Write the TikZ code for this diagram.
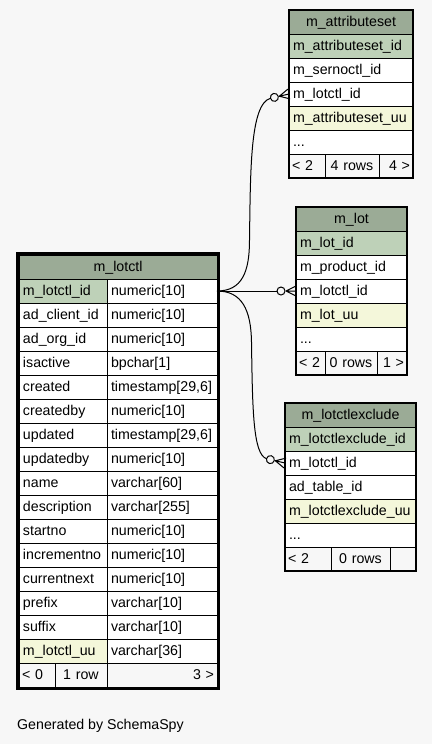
\documentclass[tikz,border=0pt]{standalone}
\usepackage{fontspec}
\setmainfont{Liberation Sans}
\definecolor{bgc}{HTML}{F7F7F7}
\definecolor{hdrc}{HTML}{9BAB96}
\definecolor{pkc}{HTML}{BED1B8}
\definecolor{idxc}{HTML}{F4F7DA}
\begin{document}
\begin{tikzpicture}[x=1pt,y=-1pt,
  every node/.style={font=\fontsize{14.2pt}{17pt}\selectfont},
  cell/.style={draw=black, line width=1pt, anchor=north west, outer sep=0pt,
    minimum height=24pt, inner xsep=4pt, inner ysep=0pt,
    text height=12pt, text depth=3pt, align=left},
  cw/.style={minimum width=#1, text width=#1-8pt},
  fw/.style={minimum width=#1, text width=#1-6pt, inner xsep=3pt},
  hdr/.style={cell, fill=hdrc, align=center},
  pk/.style={cell, fill=pkc},
  idx/.style={cell, fill=idxc},
  body/.style={cell, fill=white},
  foot/.style={cell, fill=bgc},
  conn/.style={draw=black, line width=1pt},
  frame/.style={draw=black, line width=2pt},
]
\path[fill=bgc, use as bounding box] (0,0) rectangle (432,744);

% ---------- m_lotctl ----------
\node[hdr, cw=198pt] (lch) at (19,255) {m\_lotctl};
\newcommand\lrow[5]{%
  \node[#3, cw=88pt] (lcn#1) at (19,#2) {\mbox{#4}};
  \node[body, cw=110pt] (lct#1) at (107,#2) {\mbox{#5}};}
\lrow{1}{279}{pk}{m\_lotctl\_id}{numeric[10]}
\lrow{2}{303}{body}{ad\_client\_id}{numeric[10]}
\lrow{3}{327}{body}{ad\_org\_id}{numeric[10]}
\lrow{4}{351}{body}{isactive}{bpchar[1]}
\lrow{5}{375}{body}{created}{timestamp[29,6]}
\lrow{6}{399}{body}{createdby}{numeric[10]}
\lrow{7}{423}{body}{updated}{timestamp[29,6]}
\lrow{8}{447}{body}{updatedby}{numeric[10]}
\lrow{9}{471}{body}{name}{varchar[60]}
\lrow{10}{495}{body}{description}{varchar[255]}
\lrow{11}{519}{body}{startno}{numeric[10]}
\lrow{12}{543}{body}{incrementno}{numeric[10]}
\lrow{13}{567}{body}{currentnext}{numeric[10]}
\lrow{14}{591}{body}{prefix}{varchar[10]}
\lrow{15}{615}{body}{suffix}{varchar[10]}
\lrow{16}{639}{idx}{m\_lotctl\_uu}{varchar[36]}
\node[foot, fw=36pt] (lcf1) at (19,663) {\mbox{< 0}};
\node[foot, fw=52pt, align=center] (lcf2) at (55,663) {\mbox{1 row}};
\node[foot, fw=110pt, align=right] (lcf3) at (107,663) {\mbox{3 >}};
\draw[line width=3pt] ([shift={(-1.5,-1.5)}]lch.north west) rectangle ([shift={(1.5,1.5)}]lcf3.south east);

% ---------- m_attributeset ----------
\node[hdr, cw=124pt] (msh) at (289,10) {m\_attributeset};
\node[pk, cw=124pt] (msr1) at (289,34) {m\_attributeset\_id};
\node[body, cw=124pt] (msr2) at (289,58) {m\_sernoctl\_id};
\node[body, cw=124pt] (msr3) at (289,82) {m\_lotctl\_id};
\node[idx, cw=124pt] (msr4) at (289,106) {\mbox{m\_attributeset\_uu}};
\node[body, cw=124pt] (msr5) at (289,130) {...};
\node[foot, fw=36pt] (msf1) at (289,154) {\mbox{< 2}};
\node[foot, fw=54pt, align=center] (msf2) at (325,154) {\mbox{4 rows}};
\node[foot, fw=34pt, align=right] (msf3) at (379,154) {\mbox{4 >}};
\draw[frame] (msh.north west) rectangle (msf3.south east);

% ---------- m_lot ----------
\node[hdr, cw=111pt] (mlh) at (296,207) {m\_lot};
\node[pk, cw=111pt] (mlr1) at (296,231) {m\_lot\_id};
\node[body, cw=111pt] (mlr2) at (296,255) {m\_product\_id};
\node[body, cw=111pt] (mlr3) at (296,279) {m\_lotctl\_id};
\node[idx, cw=111pt] (mlr4) at (296,303) {m\_lot\_uu};
\node[body, cw=111pt] (mlr5) at (296,327) {...};
\node[foot, fw=29pt] (mlf1) at (296,351) {\mbox{< 2}};
\node[foot, fw=52pt, align=center] (mlf2) at (325,351) {\mbox{0 rows}};
\node[foot, fw=30pt, align=right] (mlf3) at (377,351) {\mbox{1 >}};
\draw[frame] (mlh.north west) rectangle (mlf3.south east);

% ---------- m_lotctlexclude ----------
\node[hdr, cw=131pt] (mxh) at (285,403) {m\_lotctlexclude};
\node[pk, cw=131pt] (mxr1) at (285,427) {\mbox{m\_lotctlexclude\_id}};
\node[body, cw=131pt] (mxr2) at (285,451) {m\_lotctl\_id};
\node[body, cw=131pt] (mxr3) at (285,475) {ad\_table\_id};
\node[idx, cw=131pt] (mxr4) at (285,499) {\mbox{m\_lotctlexclude\_uu}};
\node[body, cw=131pt] (mxr5) at (285,523) {...};
\node[foot, fw=46pt] (mxf1) at (285,547) {\mbox{< 2}};
\node[foot, fw=59pt, align=center] (mxf2) at (331,547) {\mbox{0 rows}};
\node[foot, fw=26pt] (mxf3) at (390,547) {};
\draw[frame] (mxh.north west) rectangle (mxf3.south east);

% ---------- connector ends (crow's foot + open circle) ----------
\begin{scope}[shift={(msr3.west)}, rotate=13]
  \draw[conn] (-10,0) -- (0,-5) (-10,0) -- (0,0) (-10,0) -- (0,5);
  \draw[conn] (-15,0) circle[radius=4pt];
  \coordinate (ea) at (-19,0);
\end{scope}
\begin{scope}[shift={(mlr3.west)}]
  \draw[conn] (-10,0) -- (0,-5) (-10,0) -- (0,0) (-10,0) -- (0,5);
  \draw[conn] (-15,0) circle[radius=4pt];
  \coordinate (eb) at (-19,0);
\end{scope}
\begin{scope}[shift={(mxr2.west)}, rotate=-13]
  \draw[conn] (-10,0) -- (0,-5) (-10,0) -- (0,0) (-10,0) -- (0,5);
  \draw[conn] (-15,0) circle[radius=4pt];
  \coordinate (ec) at (-19,0);
\end{scope}

% ---------- connectors ----------
\draw[conn] (lct1.east) .. controls (242,291) and (249.5,272) .. (249.5,240)
  .. controls (250.5,170) and (250,104) .. (ea);
\draw[conn] (lct1.east) -- (eb);
\draw[conn] (lct1.east) .. controls (242,291) and (251,310) .. (251.5,342)
  .. controls (252.5,410) and (253,454) .. (ec);

\node[anchor=base west, inner sep=0pt] (gen) at (17,729) {Generated by SchemaSpy};
\end{tikzpicture}
\end{document}
